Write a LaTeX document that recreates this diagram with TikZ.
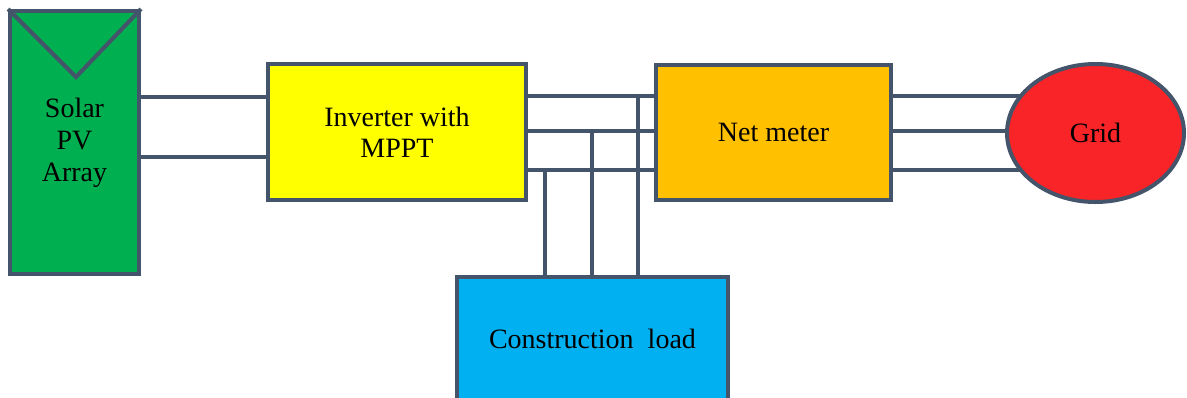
\documentclass[tikz,border=0pt]{standalone}
\usepackage{fontspec}
\setmainfont{Liberation Serif}
\usepackage{tikz}
\usetikzlibrary{positioning,shapes.geometric,backgrounds}
\definecolor{wire}{RGB}{68,84,106}
\definecolor{pvgreen}{RGB}{0,176,80}
\definecolor{invyellow}{RGB}{255,255,0}
\definecolor{meterorange}{RGB}{255,192,0}
\definecolor{loadblue}{RGB}{0,176,240}
\definecolor{gridred}{RGB}{248,36,40}
\newcommand{\blockfont}{\rmfamily\fontsize{21}{24}\selectfont}

\begin{document}
\begin{tikzpicture}[x=0.75pt,y=-0.75pt,
	block/.style={draw=wire, line width=3pt, inner sep=0pt, align=center,
		font=\blockfont},
	wireline/.style={draw=wire, line width=3pt}]
	\useasboundingbox (0,0) rectangle (1187,397);
	\clip (0,0) rectangle (1187,397);
	
	% Blocks
	\node[block, fill=pvgreen, minimum width=96.75pt, minimum height=197.25pt] (pv) at (74.5,142.5) {Solar\\\blockfont PV\\\blockfont Array};
	\node[block, fill=invyellow, minimum width=193.5pt, minimum height=102pt] (inv) at (397,132) {Inverter with\\[-1pt]\blockfont MPPT};
	\node[block, fill=meterorange, minimum width=176.25pt, minimum height=101.25pt] (meter) at (773.5,132.5) {Net meter};
	\node[block, fill=loadblue, minimum width=203.25pt, minimum height=93pt] (load) at (592.5,339) {Construction\hspace{0.5em}load};
	\node[block, ellipse, fill=gridred, minimum width=132.75pt, minimum height=103.5pt] (grid) at (1095.5,133) {Grid};
	
	% Panel mark
	\draw[wireline] (pv.north west) -- (76,77) -- (pv.north east);
	
	% Wire rows
	\coordinate (d1) at (0,97);
	\coordinate (d2) at (0,157);
	\coordinate (r1) at (0,96);
	\coordinate (r2) at (0,131);
	\coordinate (r3) at (0,170);
	
	\begin{scope}[on background layer]
		% DC side
		\draw[wireline] (pv.east |- d1) -- (inv.west |- d1);
		\draw[wireline] (pv.east |- d2) -- (inv.west |- d2);
		
		% AC side
		\foreach \r in {r1,r2,r3} {
			\draw[wireline] (inv.east |- \r) -- (meter.west |- \r);
			\draw[wireline] (meter.east |- \r) -- (grid.center |- \r);
		}
		
		% Taps to load
		\coordinate (t1) at (638,96);
		\coordinate (t2) at (592,131);
		\coordinate (t3) at (545,170);
		\foreach \t in {t1,t2,t3} {
			\draw[wireline] (\t) -- (\t |- load.north);
		}
	\end{scope}
\end{tikzpicture}
\end{document}
